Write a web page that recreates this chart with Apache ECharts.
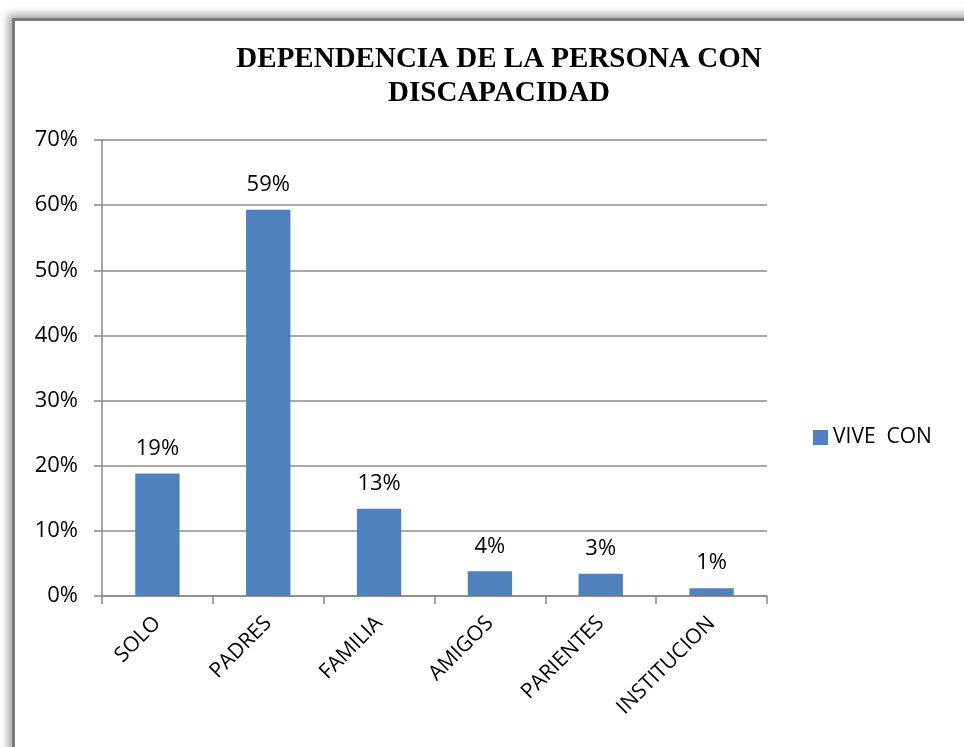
<!DOCTYPE html>
<html>
<head>
<meta charset="utf-8">
<script src="https://cdn.jsdelivr.net/npm/echarts@6/dist/echarts.min.js"></script>
<style>
  html, body { margin: 0; padding: 0; background: #fff; }
  #frame {
    position: absolute; left: 12px; top: 18px; width: 980px; height: 760px;
    border-left: 3px solid #7a7a7a; border-top: 3px solid #7a7a7a;
    box-shadow: -4px -4px 8px rgba(0,0,0,0.35);
  }
  #main { position: absolute; left: 0; top: 0; width: 964px; height: 747px; }
</style>
</head>
<body>
<div id="frame"></div>
<div id="main"></div>
<script>
var categorias = ['SOLO', 'PADRES', 'FAMILIA', 'AMIGOS', 'PARIENTES', 'INSTITUCION'];
var viveCon = [0.188, 0.593, 0.134, 0.038, 0.034, 0.012];
var etiquetas = ['19%', '59%', '13%', '4%', '3%', '1%'];

var unChart = echarts.init(document.getElementById('main'));

var options = {
	animation: false,
	title: {
		text: 'DEPENDENCIA DE LA PERSONA CON\nDISCAPACIDAD',
		left: 494,
		top: 38,
		textAlign: 'center',
		textStyle: {
			fontFamily: 'Liberation Serif',
			fontWeight: 'bold',
			fontSize: 29,
			lineHeight: 34,
			color: '#000'
		}
	},
	legend: {
		data: ['VIVE  CON'],
		icon: 'rect',
		left: 808,
		top: 422,
		itemWidth: 15,
		itemHeight: 15,
		itemGap: 6,
		textStyle: { fontFamily: 'Open Sans', fontSize: 21, color: '#000' }
	},
	grid: { left: 102, right: 197, top: 140, bottom: 151 },
	xAxis: {
		type: 'category',
		data: categorias,
		axisLine: { lineStyle: { color: '#888', width: 1.5 } },
		axisTick: { show: true, length: 8, lineStyle: { color: '#888', width: 1.5 } },
		axisLabel: {
			rotate: 45,
			margin: 24,
			fontFamily: 'Open Sans',
			fontSize: 21,
			color: '#000'
		}
	},
	yAxis: {
		type: 'value',
		min: 0,
		max: 0.7,
		interval: 0.1,
		axisLine: { show: true, lineStyle: { color: '#888', width: 1.5 } },
		axisTick: { show: true, length: 8, lineStyle: { color: '#888', width: 1.5 } },
		splitLine: { lineStyle: { color: '#8c8c8c', width: 1.5 } },
		axisLabel: {
			margin: 24,
			fontFamily: 'Open Sans',
			fontSize: 22,
			color: '#000',
			formatter: function (v) { return Math.round(v * 100) + '%'; }
		}
	},
	series: [{
		name: 'VIVE  CON',
		type: 'bar',
		barWidth: '40%',
		itemStyle: { color: '#4f81bd' },
		label: {
			show: true,
			position: 'top',
			distance: 14,
			fontFamily: 'Open Sans',
			fontSize: 22,
			color: '#000',
			formatter: function (p) { return etiquetas[p.dataIndex]; }
		},
		data: viveCon
	}]
};
unChart.setOption(options);
</script>
</body>
</html>
